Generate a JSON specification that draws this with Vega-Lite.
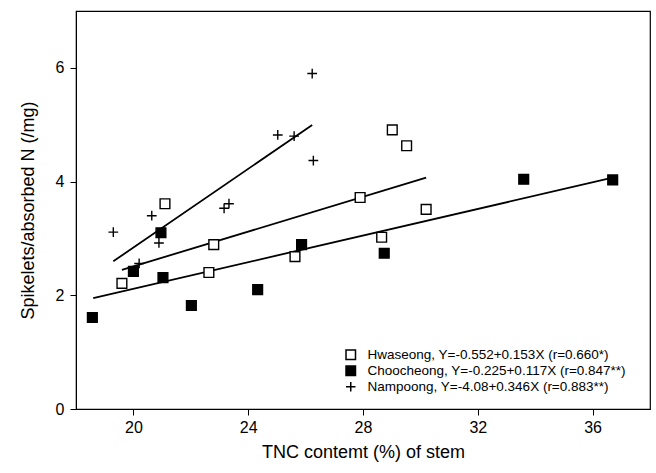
{
  "$schema": "https://vega.github.io/schema/vega-lite/v6.json",
  "autosize": {"type": "none"},
  "width": 574,
  "height": 398,
  "padding": {"left": 76, "top": 11, "right": 6, "bottom": 64},
  "background": "white",
  "config": {
    "font": "Liberation Sans",
    "view": {"stroke": "black", "strokeWidth": 1.2},
    "axis": {
      "domainColor": "black",
      "tickColor": "black",
      "labelColor": "black",
      "titleColor": "black",
      "grid": false,
      "labelFont": "Liberation Sans",
      "titleFont": "Liberation Sans",
      "titleFontWeight": "normal",
      "labelFontSize": 16,
      "titleFontSize": 18,
      "tickSize": 6
    }
  },
  "datasets": {
    "pts": [
      {"series": "Hwaseong", "x": 19.6, "y": 2.21},
      {"series": "Hwaseong", "x": 21.1, "y": 3.61},
      {"series": "Hwaseong", "x": 22.63, "y": 2.4},
      {"series": "Hwaseong", "x": 22.8, "y": 2.89},
      {"series": "Hwaseong", "x": 25.63, "y": 2.68},
      {"series": "Hwaseong", "x": 27.9, "y": 3.72},
      {"series": "Hwaseong", "x": 28.65, "y": 3.02},
      {"series": "Hwaseong", "x": 29.02, "y": 4.91},
      {"series": "Hwaseong", "x": 29.52, "y": 4.63},
      {"series": "Hwaseong", "x": 30.2, "y": 3.51},
      {"series": "Choocheong", "x": 18.57, "y": 1.61},
      {"series": "Choocheong", "x": 20.0, "y": 2.42},
      {"series": "Choocheong", "x": 20.96, "y": 3.1},
      {"series": "Choocheong", "x": 21.03, "y": 2.31},
      {"series": "Choocheong", "x": 22.02, "y": 1.82},
      {"series": "Choocheong", "x": 24.33, "y": 2.1},
      {"series": "Choocheong", "x": 25.86, "y": 2.89},
      {"series": "Choocheong", "x": 28.74, "y": 2.74},
      {"series": "Choocheong", "x": 33.6, "y": 4.04},
      {"series": "Choocheong", "x": 36.7, "y": 4.03},
      {"series": "Nampoong", "x": 19.3, "y": 3.11},
      {"series": "Nampoong", "x": 20.2, "y": 2.56},
      {"series": "Nampoong", "x": 20.64, "y": 3.4},
      {"series": "Nampoong", "x": 20.89, "y": 2.92},
      {"series": "Nampoong", "x": 23.16, "y": 3.53},
      {"series": "Nampoong", "x": 23.33, "y": 3.61},
      {"series": "Nampoong", "x": 25.03, "y": 4.82},
      {"series": "Nampoong", "x": 25.6, "y": 4.8},
      {"series": "Nampoong", "x": 26.23, "y": 5.9},
      {"series": "Nampoong", "x": 26.27, "y": 4.37}
    ],
    "fits": [
      {"series": "Hwaseong", "x": 19.6, "y": 2.447},
      {"series": "Hwaseong", "x": 30.2, "y": 4.069},
      {"series": "Choocheong", "x": 18.6, "y": 1.951},
      {"series": "Choocheong", "x": 36.7, "y": 4.069},
      {"series": "Nampoong", "x": 19.3, "y": 2.598},
      {"series": "Nampoong", "x": 26.23, "y": 4.996}
    ]
  },
  "layer": [
    {
      "data": {"name": "fits"},
      "mark": {"type": "line", "color": "black", "strokeWidth": 1.8},
      "encoding": {
        "x": {"field": "x", "type": "quantitative"},
        "y": {"field": "y", "type": "quantitative"},
        "detail": {"field": "series"}
      }
    },
    {
      "data": {"name": "pts"},
      "mark": {"type": "point", "stroke": "black", "strokeWidth": 1.4, "opacity": 1, "filled": false, "size": 95},
      "encoding": {
        "x": {
          "field": "x", "type": "quantitative",
          "scale": {"domain": [18, 38], "nice": false, "zero": false},
          "axis": {"values": [20, 24, 28, 32, 36], "format": "d", "title": "TNC contemt (%) of stem", "labelPadding": 4, "titlePadding": 8}
        },
        "y": {
          "field": "y", "type": "quantitative",
          "scale": {"domain": [0, 7], "nice": false},
          "axis": {"values": [0, 2, 4, 6], "format": "d", "title": "Spikelets/absorbed N (/mg)", "labelPadding": 6, "titlePadding": 18}
        },
        "shape": {
          "field": "series", "type": "nominal",
          "scale": {"domain": ["Hwaseong", "Choocheong", "Nampoong"], "range": ["square", "square", "M-1,0H1M0,-1V1"]},
          "legend": {
            "orient": "none", "legendX": 268, "legendY": 337, "title": null, "padding": 0,
            "rowPadding": 0, "labelFontSize": 13.5, "labelColor": "black", "labelOffset": 10, "labelLimit": 0,
            "symbolSize": 90,
            "encode": {"symbols": {"update": {"stroke": {"value": "black"}, "strokeWidth": {"value": 1.3}, "opacity": {"value": 1}}}},
            "labelExpr": "datum.label == 'Hwaseong' ? 'Hwaseong, Y=-0.552+0.153X (r=0.660*)' : datum.label == 'Choocheong' ? 'Choocheong, Y=-0.225+0.117X (r=0.847**)' : 'Nampoong, Y=-4.08+0.346X (r=0.883**)'"
          }
        },
        "fill": {
          "field": "series", "type": "nominal",
          "scale": {"domain": ["Hwaseong", "Choocheong", "Nampoong"], "range": ["white", "black", "transparent"]},
          "legend": {
            "orient": "none", "legendX": 268, "legendY": 337, "title": null, "padding": 0,
            "rowPadding": 0, "labelFontSize": 13.5, "labelColor": "black", "labelOffset": 10, "labelLimit": 0,
            "symbolSize": 90,
            "encode": {"symbols": {"update": {"stroke": {"value": "black"}, "strokeWidth": {"value": 1.3}, "opacity": {"value": 1}}}},
            "labelExpr": "datum.label == 'Hwaseong' ? 'Hwaseong, Y=-0.552+0.153X (r=0.660*)' : datum.label == 'Choocheong' ? 'Choocheong, Y=-0.225+0.117X (r=0.847**)' : 'Nampoong, Y=-4.08+0.346X (r=0.883**)'"
          }
        }
      }
    }
  ]
}
